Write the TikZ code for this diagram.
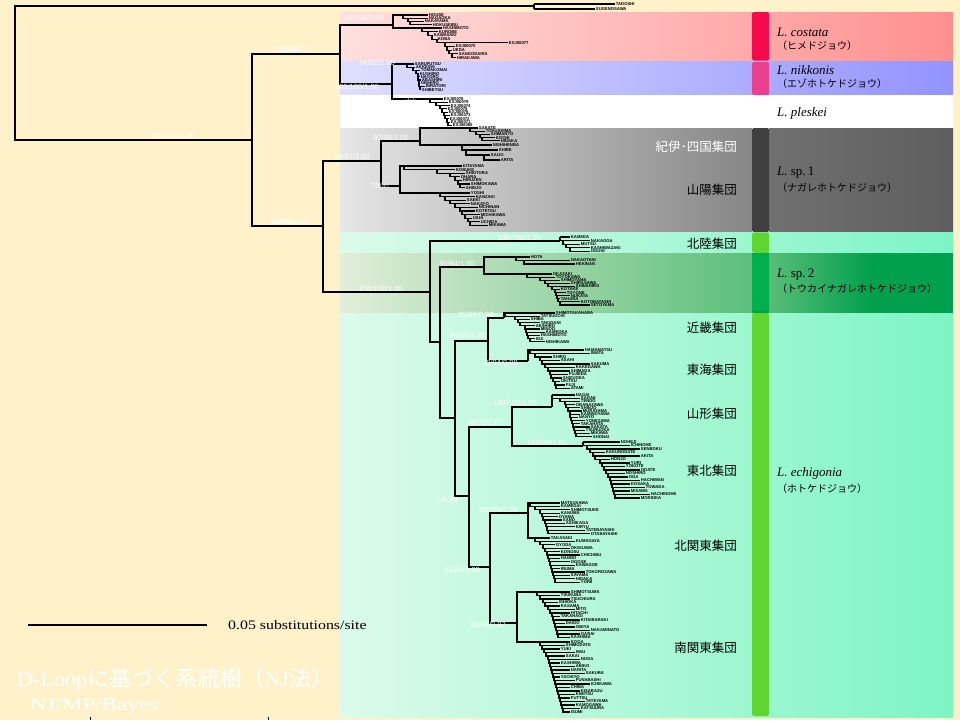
\documentclass[tikz,border=0pt]{standalone}
\usepackage{fontspec}
\setmainfont{Liberation Serif}
\newfontfamily\cjk{Noto Sans CJK JP}
\newfontfamily\sansf{Liberation Sans}
\usepackage{graphicx}
\definecolor{cream}{HTML}{FFF2CB}
\definecolor{pinkL}{HTML}{FFDFDF}
\definecolor{pinkR}{HTML}{FF8F8F}
\definecolor{bluL}{HTML}{DFDFFF}
\definecolor{bluR}{HTML}{9393FF}
\definecolor{grA}{HTML}{E6E6E6}
\definecolor{grB}{HTML}{DCDCDC}
\definecolor{grC}{HTML}{868686}
\definecolor{grD}{HTML}{707070}
\definecolor{grE}{HTML}{5E5E5E}
\definecolor{mintA}{HTML}{DCFAEB}
\definecolor{mintB}{HTML}{C4F8DE}
\definecolor{mintC}{HTML}{7DF5C3}
\definecolor{sA}{HTML}{E2EEDA}
\definecolor{sB}{HTML}{5CBF7B}
\definecolor{sC}{HTML}{58BD78}
\definecolor{sD}{HTML}{00A04E}
\definecolor{barCost}{HTML}{F50A4E}
\definecolor{barNik}{HTML}{E8408E}
\definecolor{barSpA}{HTML}{404040}
\definecolor{barGrn}{HTML}{5FD62F}
\definecolor{barSpB}{HTML}{00B04C}
\tikzset{
  br/.style={line width=1.1pt, black},
  tlab/.style={anchor=west, inner sep=0.4pt, font=\sansf\bfseries\fontsize{4.2}{4.4}\selectfont},
  supl/.style={text=white, inner sep=0pt, font=\sansf\fontsize{7.5}{8}\selectfont},
  grp/.style={anchor=east, inner sep=0pt, font=\cjk\fontsize{12.5}{13}\selectfont},
  splat/.style={anchor=west, inner sep=0pt, font=\fontsize{13}{14}\selectfont},
  spjp/.style={anchor=west, inner sep=0pt, font=\cjk\fontsize{10}{11}\selectfont},
  barbox/.style={rounded corners=1.5pt},
}
\newcommand\ladder[5]{%
  \foreach \xn/\tx/\nm [count=\k from 0, remember=\xn as \px (initially 0)] in {#5}{%
    \pgfmathsetmacro\yk{#3+\k*#4}%
    \ifnum\k=0\relax
      \draw[br] (#2) |- (\xn,\yk);%
    \else
      \pgfmathsetmacro\yp{#3+(\k-1)*#4}%
      \draw[br] (\px,\yp) |- (\xn,\yk);%
    \fi
    \draw[br] (\xn,\yk) -- (\tx,\yk) node[tlab] (#1-\k) {\nm};%
  }%
}
\begin{document}
\begin{tikzpicture}[x=1pt,y=-1pt]
\fill[cream] (0,0) rectangle (960,720);
\useasboundingbox (0,0) rectangle (960,720);
% bands
\shade[left color=pinkL, right color=pinkR] (340,12) rectangle (953,61.5);
\shade[left color=bluL, right color=bluR] (340,61.5) rectangle (953,95);
\fill[white] (340,95) rectangle (953,128);
\shade[left color=grA, middle color=grB, right color=grC] (340,128) rectangle (752,232);
\shade[left color=grD, right color=grE] (769,128) rectangle (953,232);
\shade[left color=mintA, middle color=mintB, right color=mintC] (340,232) rectangle (953,717);
\begin{scope}
  \clip (340,253) rectangle (953,312);
  \shade[left color=sA, right color=sB] (340,250) rectangle (752,315);
  \fill[sD] (752,250) rectangle (953,315);
  \shade[left color=sC, right color=sD] (769,250) rectangle (872,315);
\end{scope}
% bars
\fill[barCost, barbox] (752,12) rectangle (769,60.5);
\fill[barNik, barbox] (752,62) rectangle (769,95);
\fill[barSpA, barbox] (752,128) rectangle (769,232);
\fill[barGrn, barbox] (752,232.5) rectangle (769,253);
\fill[barSpB, barbox] (752,254) rectangle (769,311);
\fill[barGrn, barbox] (752,313) rectangle (769,716);
% tree skeleton
\coordinate (R) at (15,73);
\coordinate (OG) at (534,6);
\coordinate (R2) at (252,140);
\coordinate (A) at (340,54);
\coordinate (B) at (323,226);
\coordinate (Cst) at (393,25);
\coordinate (NP) at (392,84);
\coordinate (S1) at (381,161);
\coordinate (E) at (430,292);
\coordinate (KS) at (420,141);
\coordinate (SY) at (400,186);
\coordinate (HK) at (560,241);
\coordinate (F) at (440,342);
\coordinate (SP2) at (484,267);
\coordinate (G) at (455,418);
\coordinate (H) at (488,341);
\coordinate (I) at (469,496);
\coordinate (KK) at (504,318);
\coordinate (TK) at (528,361);
\coordinate (J) at (512,427);
\coordinate (K) at (490,567);
\coordinate (YG) at (552,407);
\coordinate (TH) at (583,446);
\coordinate (KT) at (528,513);
\coordinate (MK) at (517,623);
\foreach \p/\c in {R/OG,R/R2,R2/A,R2/B,A/Cst,A/NP,B/S1,B/E,S1/KS,S1/SY,E/HK,E/F,F/SP2,F/G,G/H,G/I,H/KK,H/TK,I/J,I/K,J/YG,J/TH,K/KT,K/MK}
  {\draw[br] (\p) |- (\c);}
% terminal clades
\ladder{og}{OG}{4}{5}{534/615/TADOSHI, 534/595/SUGENOSAWA}
\ladder{cu}{Cst}{15}{3.2}{403/428/HOUSE, 408/428/NAGAOKA, 410/424/NAKAYAMA, 410/432/HOKUSEIBU}
\ladder{cl}{Cst}{28}{3.7}{422/442/HASHIMOTO, 428/438/KUROBE, 432/433/KAWASAKI, 437/437/KOBA, 445/508/EXJ00077, 447/455/EXJ00070, 449/452/UEDA, 452/458/SANGODAIRA, 452/456/HIRAKAWA}
\ladder{nk}{NP}{64}{3.2}{407/414/SARUFUTSU, 413/415/AKKESHI, 416/420/TOMAKOMAI, 418/419/KUSHIRO, 418/420/NAYORO, 419/421/ABASHIRI, 419/420/OBIHIRO, 420/425/BIRATORI, 420/421/SHIBETSU}
\ladder{pl}{NP}{99}{3.3}{430/443/EXJ00078, 436/448/EXJ00079, 440/450/EXJ00074, 442/447/EXJ00075, 444/448/EXJ00076, 445/450/EXJ00073, 447/449/EXJ00072, 448/450/EXJ00071, 449/452/EXJ00080}
\ladder{ku}{KS}{128}{3.2}{470/478/SAKATE, 476/485/TOKUSHIMA, 480/490/SHIMANTO, 482/495/KOCHI, 486/500/HIDAKA}
\ladder{kl}{KS}{145}{5}{462/492/NISHIHENBA, 466/498/SHIRE, 484/490/SAIJO, 486/500/ARITA}
\ladder{su}{SY}{166}{3.6}{404/462/KITAYAMA, 437/455/KOBUKE, 450/465/SHIOTORA, 455/460/OHARA, 458/462/HIRUZEN, 460/470/SHIMOKAWA, 462/465/SHINJO}
\ladder{sl}{SY}{193}{3.6}{440/470/YOSHI, 445/475/KANZAKI, 450/466/SAEKI, 455/470/NAKAYO, 460/478/NICHINAN, 462/475/KOTETSU, 465/480/MICHIKAWA, 468/472/USHI, 470/480/UCHIDA, 472/488/MIKAWA}
\ladder{hk}{HK}{237}{3.6}{560/570/KAMIIGA, 563/590/NAKAOGA, 566/580/MUTSU, 570/590/KASHIWAZAKI, 571/590/OGUNI}
\ladder{pu}{SP2}{257}{3.5}{516/530/HOTA, 524/570/NAKAOTANI, 540/575/HEKINAN}
\ladder{pw}{SP2}{274}{3.1}{527/552/OKAZAKI, 540/555/TOYOKAWA, 545/560/SHIMOYAMA, 548/570/SHIRASAWA, 552/575/SHINSHIRO, 555/560/KOTAKE, 556/566/TOYONE, 557/570/NUKATA, 558/560/TAHARA, 560/580/KOTOBAYASHI, 562/590/SETOYAMA}
\ladder{kk}{KK}{313}{3.2}{505/555/SHIMOTAKAHARA, 515/540/TATSUOCHI, 518/530/SHIBA, 520/540/TAKIDANI, 525/535/AESHIRO, 526/540/MINOO, 527/545/KAMEOKA, 528/540/HASHIMOTO, 530/535/IGA, 531/545/NISHIKAWA}
\ladder{tk}{TK}{350}{3.5}{530/584/HAMAMATSU, 535/590/IWATA, 540/552/SHIRO, 542/560/ASAHI, 545/590/SAKUMA, 548/575/KAKEGAWA, 550/570/SHIMADA, 551/568/FUJIEDA, 553/562/SHIZUOKA, 555/560/OKITSU, 556/565/FUJI, 557/570/ATAMI}
\ladder{yg}{YG}{395}{3.2}{552/575/NAGAI, 560/580/SAGAE, 565/580/TENDO, 566/575/OBANAZAWA, 568/580/SHINJO, 570/582/MURAYAMA, 570/580/KAMINOYAMA, 571/578/NANYO, 572/585/YONEZAWA, 573/580/TAKAHATA, 574/590/SAKATA, 575/585/TSURUOKA, 576/590/MIKAWA, 577/592/SHONAI}
\ladder{th}{TH}{442}{3.5}{583/620/NOHEJI, 587/630/ICHINOHE, 590/640/SENBOKU, 593/605/KAKUNODATE, 595/640/AKITA, 600/610/HONJO, 602/630/YURI, 604/625/YOKOTE, 606/640/ODATE, 608/625/NOSHIRO, 610/628/OGA, 611/640/HACHIMAN, 612/630/KOSAKA, 613/645/TOWADA, 614/630/MISAWA, 615/650/HACHINOHE, 616/640/MORIOKA}
\ladder{ka}{KT}{503}{3.4}{530/560/MATSUKAWA, 535/560/KAMEGAI, 540/570/SHIMOTSUKE, 542/560/KANUMA, 543/558/OYAMA, 545/562/SANO, 546/565/ASHIKAGA, 547/575/KIRYU, 548/585/TATEBAYASHI, 549/590/OTABAYASHI}
\ladder{kb}{KT}{538}{3.4}{535/550/TAKASAKI, 540/575/KUMAGAYA, 543/555/GYODA, 545/570/OKEGAWA, 547/560/KONOSU, 548/580/CHICHIBU, 549/560/HANNO, 550/570/OGOSE, 551/575/KAWAGOE, 552/560/IRUMA, 553/585/TOKOROZAWA, 554/570/SAYAMA, 555/575/HIDAKA, 556/580/YORII}
\ladder{ma}{MK}{592}{3.5}{537/570/SHIMOTSUMA, 540/560/TSUKUBA, 543/570/TSUCHIURA, 545/558/ISHIOKA, 548/560/KASAMA, 550/575/MITO, 552/570/HITACHI, 553/560/TAKAHAGI, 554/580/KITAIBARAKI, 555/565/DAIGO, 556/575/OMIYA, 557/590/NAKAMINATO, 558/580/OARAI, 559/570/KASHIMA}
\ladder{mb}{MK}{642}{3.5}{540/570/KOGA, 542/565/SHIMODATE, 544/560/YUKI, 546/575/IWAI, 548/565/SAKAI, 549/580/NODA, 550/560/KASHIWA, 551/575/ABIKO, 552/570/NARITA, 553/585/SAKURA, 554/560/YACHIYO, 555/575/FUNABASHI, 556/590/ICHIKAWA, 557/570/CHIBA, 558/580/KISARAZU, 559/575/KIMITSU, 560/570/FUTTSU, 561/585/TATEYAMA, 562/575/KAMOGAWA, 563/580/KATSUURA, 564/570/ISUMI}
% support values
\node[supl] (s01) at (172,136) {100/100/1.00};
\node[supl] (s02) at (293,50) {100/94/0.98};
\node[supl] (s03) at (289,222) {99/99/1.00};
\node[supl] (s04) at (364,18) {100/98/1.00};
\node[supl] (s05) at (377,63) {84/82/1.00};
\node[supl] (s06) at (357,87) {100/100/1.00};
\node[supl] (s07) at (411,100) {-/-/-};
\node[supl] (s08) at (352,157) {99/97/1.00};
\node[supl] (s09) at (391,138) {97/98/1.00};
\node[supl] (s10) at (380,186) {79/-/-};
\node[supl] (s11) at (519,238) {100/100/1.00};
\node[supl] (s12) at (381,289) {100/100/1.00};
\node[supl] (s13) at (457,264) {90/84/1.00};
\node[supl] (s14) at (476,315) {89/89/0.99};
\node[supl] (s15) at (468,336) {94/96/1.00};
\node[supl] (s16) at (500,363) {90/94/0.99};
\node[supl] (s17) at (515,403) {100/100/1.00};
\node[supl] (s18) at (485,423) {78/72/1.00};
\node[supl] (s19) at (547,443) {100/99/1.00};
\node[supl] (s20) at (446,500) {-/-/0.99};
\node[supl] (s21) at (498,510) {100/99/1.00};
\node[supl] (s22) at (462,570) {91/84/1.00};
\node[supl] (s23) at (488,625) {98/98/0.97};
% group labels
\node[grp, text=white] (gKii) at (737,147) {紀伊･四国集団};
\node[grp] (gSanyo) at (737,190) {山陽集団};
\node[grp] (gHokuriku) at (737,244) {北陸集団};
\node[grp] (gKinki) at (737,328) {近畿集団};
\node[grp] (gTokai) at (737,370) {東海集団};
\node[grp] (gYamagata) at (737,414) {山形集団};
\node[grp] (gTohoku) at (737,471) {東北集団};
\node[grp] (gKitakanto) at (737,546) {北関東集団};
\node[grp] (gMinami) at (737,648) {南関東集団};
% species labels
\node[splat] (c1) at (777,32) {\textit{L. costata}};
\node[spjp] (c2) at (777,46) {（ヒメドジョウ）};
\node[splat] (n1) at (777,70) {\textit{L. nikkonis}};
\node[spjp] (n2) at (777,84) {（エゾホトケドジョウ）};
\node[splat] (p1) at (777,113) {\textit{L. pleskei}};
\node[splat] (a1) at (777,173) {\textit{L.} sp.\,1};
\node[spjp] (a2) at (777,188) {（ナガレホトケドジョウ）};
\node[splat] (b1) at (777,275) {\textit{L.} sp.\,2};
\node[spjp] (b2) at (777,289) {（トウカイナガレホトケドジョウ）};
\node[splat] (e1) at (777,473) {\textit{L. echigonia}};
\node[spjp] (e2) at (777,489) {（ホトケドジョウ）};
% scale bar
\coordinate (sbL) at (28,625);
\coordinate (sbR) at (207,625);
\draw[br] (sbL) -- (sbR);
\node[anchor=west, inner sep=0pt] (sbT) at (228,625) {\fontsize{13}{14}\selectfont\scalebox{1.22}[1]{0.05 substitutions/site}};
% title
\node[anchor=west, inner sep=0pt, text=white] (title) at (17,680) {\fontsize{21.5}{24}\selectfont\scalebox{1.03}[1]{D-Loop{\cjk に基づく系統樹（}NJ{\cjk 法）}}};
\node[anchor=west, inner sep=0pt, text=white] (subt) at (30,706) {\fontsize{18}{20}\selectfont\scalebox{1.28}[1]{NJ/MP/Bayes}};
% ticks
\coordinate (tk1a) at (90,716.5); \coordinate (tk1b) at (90,720);
\coordinate (tk2a) at (268,716.5); \coordinate (tk2b) at (268,720);
\draw[line width=0.8pt] (tk1a) -- (tk1b);
\draw[line width=0.8pt] (tk2a) -- (tk2b);
\end{tikzpicture}
\end{document}
